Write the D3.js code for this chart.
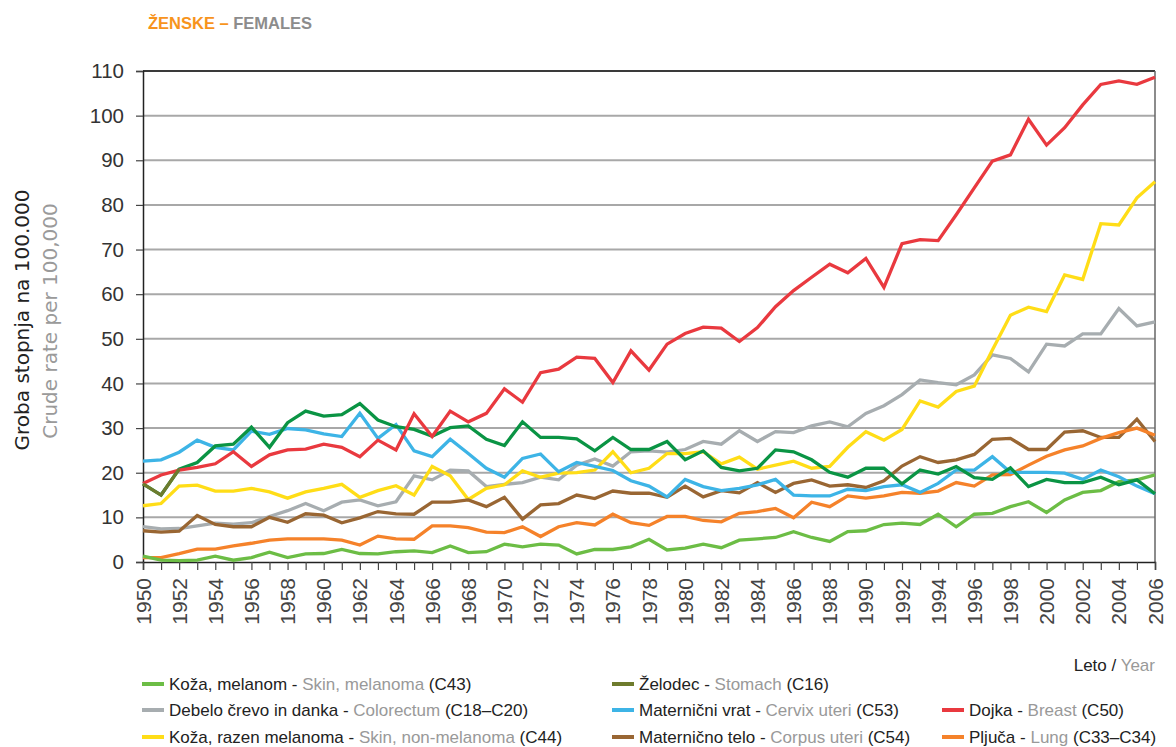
<!DOCTYPE html>
<html><head><meta charset="utf-8">
<script src="https://cdn.jsdelivr.net/npm/d3@7"></script>
<style>
html,body{margin:0;padding:0;background:#fff;}
svg text{font-family:"Liberation Sans",Arial,sans-serif;}
</style></head>
<body>
<svg id="chart" width="1176" height="747"></svg>
<script>
const years = d3.range(1950, 2007);
const yTicks = [0,10,20,30,40,50,60,70,80,90,100,110];
const xLabelYears = d3.range(1950, 2007, 2);

const melanoma = [1.3,0.4,0.3,0.4,1.3,0.4,1.0,2.2,1.0,1.8, 1.9,2.8,1.9,1.8,2.3,2.5,2.1,3.6,2.1,2.3, 4.0,3.4,4.0,3.8,1.8,2.8,2.8,3.4,5.1,2.7, 3.1,4.0,3.2,4.9,5.2,5.5,6.8,5.5,4.6,6.8, 7.0,8.4,8.7,8.4,10.7,7.9,10.7,10.9,12.4,13.5, 11.1,13.9,15.6,16.0,18.0,18.4,19.5];
const stomach = [17.5,15.0,20.8,22.3,26.0,26.4,30.2,25.7,31.2,33.8, 32.7,33.0,35.5,31.8,30.3,29.7,28.2,30.1,30.5,27.5, 26.1,31.4,27.9,27.9,27.6,24.9,27.9,25.2,25.2,27.0, 22.9,24.9,21.2,20.4,21.0,25.1,24.7,22.9,20.1,19.0, 21.0,21.0,17.5,20.6,19.7,21.4,18.9,18.5,21.1,16.9, 18.5,17.8,17.8,19.0,17.3,18.4,15.3];
const colorectum = [7.9,7.4,7.5,8.1,8.7,8.5,8.8,10.2,11.5,13.1, 11.5,13.4,13.9,12.6,13.5,19.3,18.4,20.6,20.4,16.9, 17.4,17.8,19.0,18.4,21.7,23.1,21.5,24.7,24.9,24.6, 25.2,27.0,26.4,29.4,27.0,29.2,29.0,30.5,31.4,30.3, 33.3,35.0,37.5,40.8,40.2,39.7,41.9,46.4,45.6,42.6, 48.8,48.4,51.1,51.1,56.8,52.9,53.8];
const cervix = [22.6,22.9,24.6,27.3,25.7,25.1,29.3,28.6,29.9,29.6, 28.7,28.1,33.3,27.7,30.8,24.9,23.6,27.5,24.3,21.0, 19.0,23.2,24.2,20.2,22.3,21.4,20.5,18.2,17.0,14.6, 18.5,16.9,16.0,16.5,17.3,18.5,15.0,14.8,14.8,16.3, 16.0,16.9,17.3,15.6,17.6,20.6,20.6,23.6,20.1,20.1, 20.1,19.9,18.5,20.6,19.1,17.0,15.3];
const breast = [17.6,19.5,20.6,21.2,22.0,24.7,21.4,24.0,25.1,25.3, 26.4,25.7,23.6,27.3,25.1,33.2,28.1,33.8,31.4,33.3, 38.8,35.8,42.4,43.2,45.9,45.6,40.2,47.3,43.0,48.8, 51.2,52.6,52.4,49.4,52.5,57.2,60.8,63.8,66.7,64.8, 68.0,61.5,71.3,72.2,72.0,77.8,83.8,89.8,91.2,99.2, 93.4,97.3,102.4,107.0,107.8,107.0,108.6];
const skinNonMel = [12.6,13.1,17.0,17.2,15.9,15.9,16.5,15.7,14.3,15.7, 16.5,17.4,14.5,16.0,17.1,15.0,21.4,19.3,14.0,16.5, 17.3,20.4,19.0,19.9,20.0,20.6,24.7,20.0,21.0,24.3, 24.3,24.7,22.0,23.5,20.8,21.7,22.6,21.0,21.4,25.7, 29.2,27.3,29.7,36.1,34.7,38.2,39.4,47.5,55.3,57.1, 56.1,64.3,63.3,75.8,75.5,81.6,85.2];
const corpus = [7.0,6.7,6.9,10.4,8.4,7.9,7.9,10.0,8.9,10.8, 10.5,8.8,9.9,11.3,10.8,10.7,13.4,13.4,13.9,12.4, 14.5,9.6,12.8,13.1,15.0,14.2,15.9,15.4,15.4,14.5, 17.0,14.6,16.0,15.5,17.8,15.6,17.6,18.4,17.0,17.3, 16.7,18.2,21.5,23.6,22.3,22.9,24.1,27.5,27.7,25.2, 25.2,29.1,29.4,27.9,27.9,32.0,27.0];
const lung = [1.0,1.0,1.9,2.9,2.9,3.6,4.2,4.9,5.2,5.2, 5.2,4.9,3.8,5.8,5.2,5.1,8.1,8.1,7.7,6.7, 6.6,7.9,5.7,7.9,8.8,8.3,10.7,8.8,8.2,10.2, 10.2,9.3,9.0,10.9,11.3,12.0,9.9,13.4,12.4,14.8, 14.3,14.8,15.6,15.4,15.9,17.8,17.0,19.5,19.6,21.7, 23.7,25.1,26.0,27.7,29.0,30.0,28.4];

const legendSl = ["Koža, melanom","Želodec","Debelo črevo in danka","Maternični vrat","Dojka","Koža, razen melanoma","Maternično telo","Pljuča"];
const legendEn = ["Skin, melanoma","Stomach","Colorectum","Cervix uteri","Breast","Skin, non-melanoma","Corpus uteri","Lung"];
const legendCode = ["(C43)","(C16)","(C18–C20)","(C53)","(C50)","(C44)","(C54)","(C33–C34)"];

const colors = {melanoma:"#6cbd45", stomachLegend:"#6e7b2d", stomach:"#0a9444", colorectum:"#a7adb0", cervix:"#3db4e6", breast:"#e9393f", skinNonMel:"#ffdd17", corpus:"#996633", lung:"#f5822a"};

const svg = d3.select("#chart");
const x = d3.scaleLinear().domain([1950, 2006]).range([143, 1155]);
const y = d3.scaleLinear().domain([0, 110]).range([562, 71]);

// title
const title = svg.append("text").attr("x", 148).attr("y", 29).attr("font-size", 16.5).attr("font-weight", "bold");
title.append("tspan").attr("fill", "#f7941d").text("ŽENSKE – ");
title.append("tspan").attr("fill", "#8c8c8c").text("FEMALES");

// gridlines
svg.append("g").selectAll("line").data(yTicks.filter(d => d > 0 && d < 110)).join("line")
  .attr("x1", x(1950)).attr("x2", x(2006)).attr("y1", d => y(d)).attr("y2", d => y(d))
  .attr("stroke", "#a8a8a8").attr("stroke-width", 2);
// top and right frame
svg.append("line").attr("x1", x(1950)).attr("x2", x(2006)).attr("y1", y(110)).attr("y2", y(110)).attr("stroke", "#3a3a3a").attr("stroke-width", 2);
svg.append("line").attr("x1", x(2006)).attr("x2", x(2006)).attr("y1", y(110)).attr("y2", y(0)).attr("stroke", "#666").attr("stroke-width", 1.5);

// y axis
const yAxis = svg.append("g").attr("transform", `translate(${x(1950)},0)`)
  .call(d3.axisLeft(y).tickValues(yTicks).tickSize(7).tickPadding(12).tickFormat(d3.format("d")));
yAxis.select(".domain").attr("stroke", "#222").attr("stroke-width", 1.5);
yAxis.selectAll(".tick line").attr("stroke", "#444").attr("stroke-width", 1.2);
yAxis.selectAll("text").attr("font-size", 20.5).attr("fill", "#333").style("font-family", "Liberation Sans, Arial, sans-serif");

// x axis
const xAxis = svg.append("g").attr("transform", `translate(0,${y(0)})`)
  .call(d3.axisBottom(x).tickValues(years).tickSize(8).tickFormat(""));
xAxis.select(".domain").attr("stroke", "#222").attr("stroke-width", 1.5);
xAxis.selectAll(".tick line").attr("stroke", "#444").attr("stroke-width", 1.2);
svg.append("g").selectAll("text").data(xLabelYears).join("text")
  .attr("transform", d => `translate(${x(d) + 7.5},578) rotate(-90)`)
  .attr("text-anchor", "end").attr("font-size", 21).attr("fill", "#444").text(d => d);

// y axis title
svg.append("text").attr("transform", "translate(29,320) rotate(-90)").attr("text-anchor", "middle")
  .attr("font-size", 20).style("font-family", "'DejaVu Sans', sans-serif").attr("fill", "#222").text("Groba stopnja na 100.000");
svg.append("text").attr("transform", "translate(57,321) rotate(-90)").attr("text-anchor", "middle")
  .attr("font-size", 20).style("font-family", "'DejaVu Sans', sans-serif").attr("fill", "#9a9a9a").text("Crude rate per 100,000");

// lines
const line = d3.line().x((d, i) => x(years[i])).y(d => y(d));
const series = [
  {v: colorectum, c: colors.colorectum},
  {v: skinNonMel, c: colors.skinNonMel},
  {v: corpus, c: colors.corpus},
  {v: lung, c: colors.lung},
  {v: melanoma, c: colors.melanoma},
  {v: cervix, c: colors.cervix},
  {v: stomach, c: colors.stomach},
  {v: breast, c: colors.breast}
];
svg.append("g").selectAll("path").data(series).join("path")
  .attr("d", d => line(d.v)).attr("fill", "none").attr("stroke", d => d.c)
  .attr("stroke-width", 3.3).attr("stroke-linejoin", "miter");
// stomach beginning drawn in olive
svg.append("path").attr("d", line(stomach.slice(0, 3))).attr("fill", "none")
  .attr("stroke", colors.stomachLegend).attr("stroke-width", 3.3);

// Leto / Year
const yr = svg.append("text").attr("x", 1155).attr("y", 671).attr("text-anchor", "end").attr("font-size", 17);
yr.append("tspan").attr("fill", "#222").text("Leto / ");
yr.append("tspan").attr("fill", "#999").text("Year");

// legend
const legendColors = [colors.melanoma, colors.stomachLegend, colors.colorectum, colors.cervix, colors.breast, colors.skinNonMel, colors.corpus, colors.lung];
const legendPos = [[142,690],[612,690],[142,716],[612,716],[942,716],[142,743],[612,743],[942,743]];
const lg = svg.append("g").selectAll("g").data(legendSl).join("g")
  .attr("transform", (d, i) => `translate(${legendPos[i][0]},${legendPos[i][1]})`);
lg.append("line").attr("x1", 0).attr("x2", 22).attr("y1", -6).attr("y2", -6)
  .attr("stroke", (d, i) => legendColors[i]).attr("stroke-width", 4);
const lt = lg.append("text").attr("x", 27).attr("y", 0).attr("font-size", 17);
lt.append("tspan").attr("fill", "#222").text(d => d + " - ");
lt.append("tspan").attr("fill", "#999").text((d, i) => legendEn[i] + " ");
lt.append("tspan").attr("fill", "#222").text((d, i) => legendCode[i]);
</script>
</body></html>
